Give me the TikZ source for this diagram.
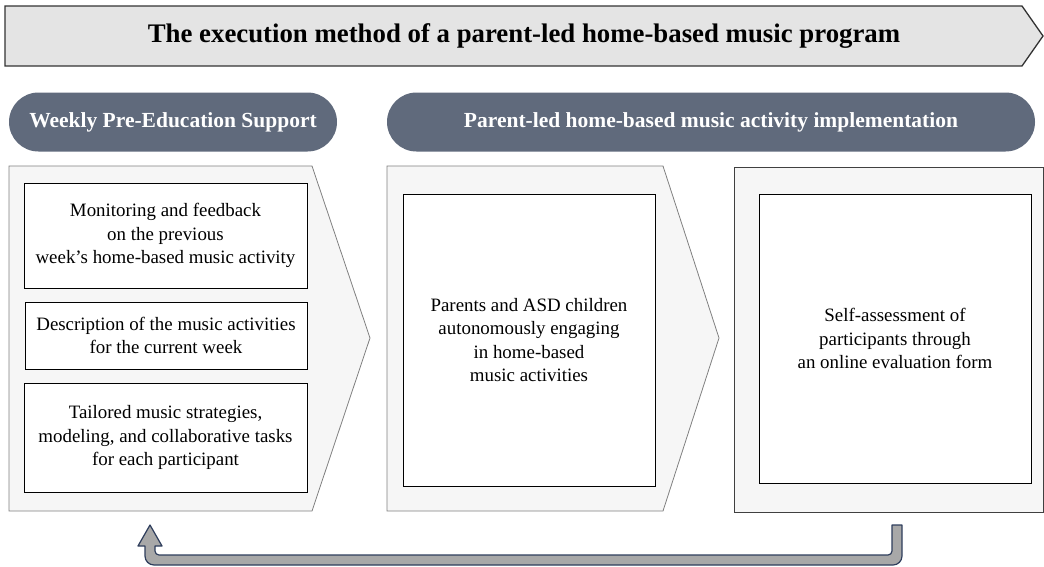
\documentclass[tikz,border=0pt]{standalone}
\usepackage{fontspec}
\setmainfont{Liberation Serif}
\usetikzlibrary{positioning, calc}
\definecolor{bannergray}{RGB}{228,228,228}
\definecolor{slateblue}{RGB}{96,106,124}
\definecolor{panelgray}{RGB}{246,246,246}
\definecolor{edgegray}{RGB}{128,128,128}
\definecolor{arrowgray}{RGB}{168,168,168}
\definecolor{arrownavy}{RGB}{46,61,92}

\tikzset{
  pill/.style={draw=none, fill=slateblue, rounded corners=29.5pt, minimum height=59pt,
    text=white, font=\fontsize{21.5}{24}\selectfont\bfseries, inner sep=0pt},
  innerbox/.style={draw=black, fill=white, line width=0.9pt, align=center,
    font=\fontsize{18.9}{23.5}\selectfont, inner sep=0pt},
  fbarrow/.style={fill=arrowgray, draw=arrownavy, line width=1.2pt, line join=round}
}

\begin{document}
\begin{tikzpicture}[x=1pt, y=-1pt]
        \useasboundingbox (0,0) rectangle (1044,566);

        % Title banner
        \draw[fill=bannergray, line width=1.3pt, draw=black!80] (5,6) -- (1022,6) -- (1043,36) -- (1022,66) -- (5,66) -- cycle;
        \node[font=\fontsize{26.8}{30}\selectfont\bfseries] (title) at (524,36) {The execution method of a parent-led home-based music program};

        % Phase headers
        \node[pill, minimum width=328pt] (support) at (173,122) {Weekly Pre-Education Support};
        \node[pill, minimum width=648pt] (implement) at (711,122) {Parent-led home-based music activity implementation};

        % Panels
        \draw[fill=panelgray, draw=edgegray, line width=0.8pt] (9,166) -- (312,166) -- (370,338) -- (312,511) -- (9,511) -- cycle;
        \draw[fill=panelgray, draw=edgegray, line width=0.8pt] (387,166) -- (663,166) -- (719,338) -- (663,511) -- (387,511) -- cycle;
        \draw[fill=panelgray, draw=black!75, line width=1pt] (734,167) rectangle (1043,512);

        % Pre-education support tasks
        \node[innerbox, minimum width=283pt, minimum height=105pt] (monitor) at (165.5,235.5) {Monitoring and feedback\\on the previous\\week's home-based music activity};
        \node[innerbox, minimum width=282pt, minimum height=67pt] (describe) at (166,335.5) {Description of the music activities\\for the current week};
        \node[innerbox, minimum width=283pt, minimum height=109pt] (tailor) at (165.5,437.5) {Tailored music strategies,\\modeling, and collaborative tasks\\for each participant};

        % Home-based activity and self-assessment
        \node[innerbox, minimum width=252pt, minimum height=292pt] (engage) at (529,340) {Parents and ASD children\\autonomously engaging\\in home-based\\music activities};
        \node[innerbox, minimum width=272pt, minimum height=289pt] (assess) at (895,338.5) {Self-assessment of\\participants through\\an online evaluation form};

        % Feedback loop
        \coordinate (fbfrom) at (897,525);
        \coordinate (fbto) at (150,525);
        \draw[fbarrow] ($(fbfrom)+(5,0)$) [rounded corners=9pt] -- ($(fbfrom)+(5,40)$) -- ($(fbto)+(-5,40)$) [sharp corners]
          -- ($(fbto)+(-5,21)$) -- ($(fbto)+(-12,21)$) -- (fbto) -- ($(fbto)+(12,21)$) -- ($(fbto)+(5,21)$) [rounded corners=4pt]
          -- ($(fbto)+(5,30)$) -- ($(fbfrom)+(-5,30)$) [sharp corners] -- ($(fbfrom)+(-5,0)$) -- cycle;
\end{tikzpicture}
\end{document}
